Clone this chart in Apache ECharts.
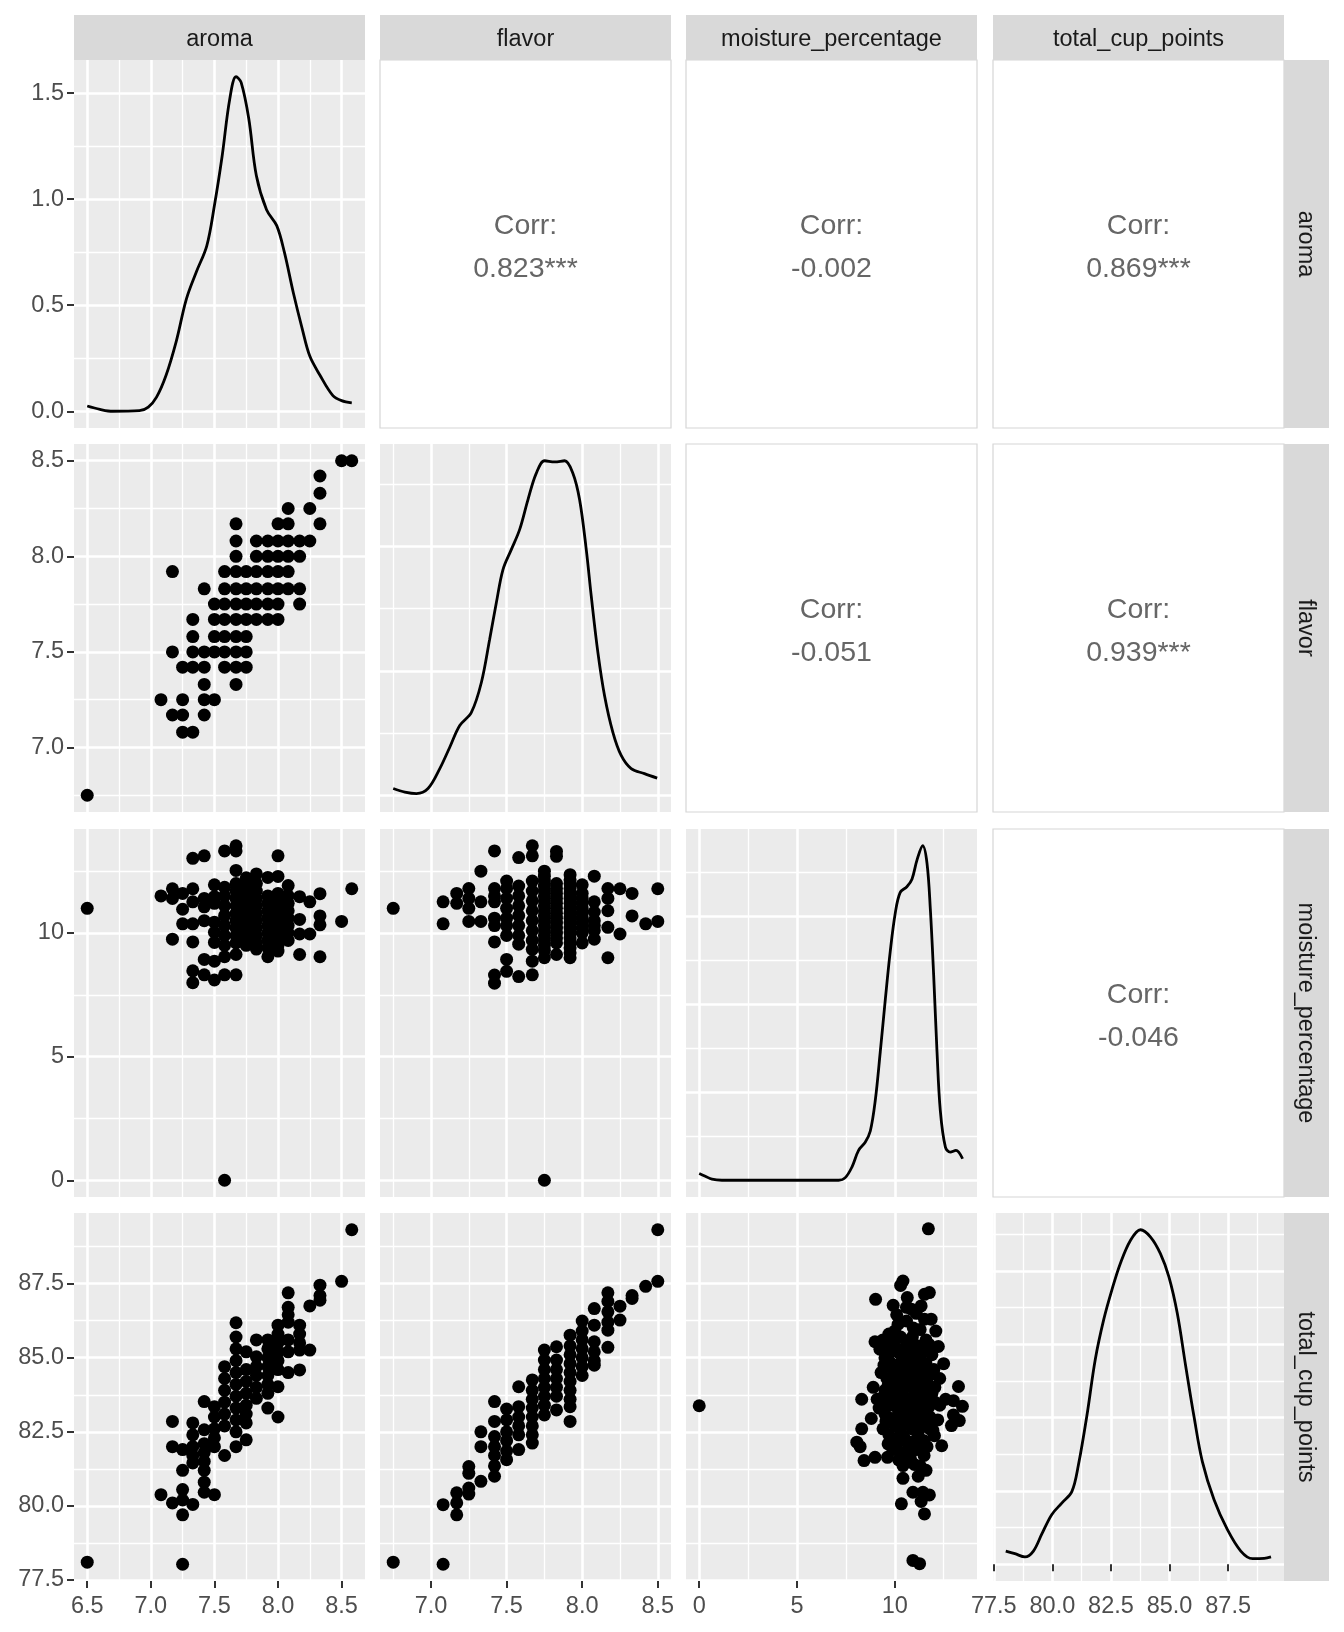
<!DOCTYPE html>
<html>
<head>
<meta charset="utf-8">
<script src="https://cdn.jsdelivr.net/npm/echarts@6/dist/echarts.min.js"></script>
<style>
  html, body { margin: 0; padding: 0; background: #ffffff; }
  #main { width: 1344px; height: 1632px; }
</style>
</head>
<body>
<div id="main"></div>
<script>
var myChart = echarts.init(document.getElementById('main'));

const FONT = '"Liberation Sans", Arial, sans-serif';

const varNames = ['aroma', 'flavor', 'moisture_percentage', 'total_cup_points'];

// breaks of each variable (major + minor grid lines)
const aromaBreaks = [6.5, 7.0, 7.5, 8.0, 8.5];
const aromaMinor = [6.75, 7.25, 7.75, 8.25];
const flavorBreaks = [7.0, 7.5, 8.0, 8.5];
const flavorMinor = [6.75, 7.25, 7.75, 8.25];
const moistureBreaks = [0, 5, 10];
const moistureMinor = [2.5, 7.5, 12.5];
const totalBreaks = [77.5, 80.0, 82.5, 85.0, 87.5];
const totalMinor = [78.75, 81.25, 83.75, 86.25, 88.75];

// density breaks (only the aroma one is labelled)
const aromaDensBreaks = [0, 0.5, 1.0, 1.5];
const aromaDensMinor = [0.25, 0.75, 1.25];
const flavorDensBreaks = [0, 0.5, 1.0];
const flavorDensMinor = [0.25, 0.75, 1.25];
const moistureDensBreaks = [0, 0.5, 1.0, 1.5];
const moistureDensMinor = [0.25, 0.75, 1.25, 1.75];
const totalDensBreaks = [0, 0.5, 1.0, 1.5, 2.0];
const totalDensMinor = [0.25, 0.75, 1.25, 1.75, 2.25];

// correlations shown in the upper triangle
const corrLabels = {
  '0-1': '0.823***', '0-2': '-0.002', '0-3': '0.869***',
  '1-2': '-0.051', '1-3': '0.939***',
  '2-3': '-0.046'
};

// diagonal densities [x, density]
const aromaDensity = [[6.5,0.025],[6.6,0.009],[6.7,0.0],[6.91,0.003],[6.98,0.02],[7.045,0.067],[7.12,0.17],[7.2,0.33],[7.28,0.53],[7.36,0.66],[7.44,0.78],[7.5,0.97],[7.56,1.2],[7.62,1.47],[7.67,1.577],[7.71,1.55],[7.77,1.38],[7.83,1.11],[7.91,0.95],[7.99,0.875],[8.05,0.75],[8.12,0.56],[8.19,0.39],[8.25,0.26],[8.33,0.17],[8.43,0.075],[8.5,0.05],[8.58,0.04]];
const flavorDensity = [[6.75,0.027],[6.827,0.013],[6.904,0.007],[6.98,0.027],[7.058,0.107],[7.124,0.193],[7.19,0.28],[7.267,0.333],[7.333,0.453],[7.388,0.627],[7.432,0.773],[7.476,0.907],[7.531,0.987],[7.586,1.067],[7.641,1.187],[7.696,1.293],[7.752,1.344],[7.818,1.339],[7.884,1.344],[7.939,1.293],[7.983,1.187],[8.027,0.987],[8.06,0.8],[8.104,0.573],[8.148,0.4],[8.203,0.253],[8.258,0.16],[8.324,0.107],[8.412,0.087],[8.496,0.069]];
const moistureDensity = [[0,0.038],[0.31,0.023],[0.65,0.006],[1.16,0],[4.0,0],[7.13,0],[7.47,0.015],[7.81,0.075],[8.15,0.17],[8.49,0.216],[8.75,0.28],[9.0,0.45],[9.26,0.73],[9.52,1.03],[9.77,1.3],[10.03,1.52],[10.28,1.635],[10.62,1.667],[10.88,1.71],[11.14,1.82],[11.43,1.9],[11.65,1.8],[11.82,1.54],[11.99,1.165],[12.16,0.733],[12.33,0.395],[12.59,0.188],[12.84,0.16],[13.13,0.17],[13.47,0.122]];
const totalDensity = [[78.01,0.09],[78.4,0.072],[78.83,0.05],[79.19,0.09],[79.54,0.203],[79.97,0.338],[80.4,0.417],[80.83,0.495],[81.11,0.676],[81.47,1.01],[81.83,1.396],[82.19,1.667],[82.54,1.87],[82.9,2.05],[83.33,2.207],[83.76,2.28],[84.19,2.23],[84.61,2.117],[84.97,1.96],[85.33,1.71],[85.69,1.35],[86.04,1.01],[86.4,0.7],[86.9,0.44],[87.47,0.236],[88.04,0.09],[88.54,0.038],[89.04,0.04],[89.33,0.05]];

// scatter panels [x, y]
const aromaFlavorPts = [[6.5,6.75],
  [8.5,8.5],[8.58,8.5],[8.33,8.42],[8.33,8.33],[8.08,8.25],[8.25,8.25],
  [7.67,8.17],[8.0,8.17],[8.08,8.17],[8.33,8.17],
  [7.67,8.08],[7.83,8.08],[7.92,8.08],[8.0,8.08],[8.08,8.08],[8.17,8.08],[8.25,8.08],
  [7.67,8.0],[7.83,8.0],[7.92,8.0],[8.0,8.0],[8.08,8.0],[8.17,8.0],
  [7.17,7.92],[7.58,7.92],[7.67,7.92],[7.75,7.92],[7.83,7.92],[7.92,7.92],[8.0,7.92],[8.08,7.92],
  [7.42,7.83],[7.58,7.83],[7.67,7.83],[7.75,7.83],[7.83,7.83],[7.92,7.83],[8.0,7.83],[8.08,7.83],[8.17,7.83],
  [7.5,7.75],[7.58,7.75],[7.67,7.75],[7.75,7.75],[7.83,7.75],[7.92,7.75],[8.0,7.75],[8.17,7.75],
  [7.33,7.67],[7.5,7.67],[7.58,7.67],[7.67,7.67],[7.75,7.67],[7.83,7.67],[7.92,7.67],[8.0,7.67],
  [7.33,7.58],[7.5,7.58],[7.58,7.58],[7.67,7.58],[7.75,7.58],
  [7.17,7.5],[7.33,7.5],[7.42,7.5],[7.5,7.5],[7.58,7.5],[7.67,7.5],[7.75,7.5],
  [7.25,7.42],[7.33,7.42],[7.42,7.42],[7.58,7.42],[7.67,7.42],[7.75,7.42],
  [7.42,7.33],[7.67,7.33],
  [7.08,7.25],[7.25,7.25],[7.42,7.25],[7.5,7.25],
  [7.17,7.17],[7.25,7.17],[7.42,7.17],
  [7.25,7.08],[7.33,7.08]];

const aromaMoisturePts = [[6.5,11.0],[7.58,0.0],
  [7.08,11.5],[7.17,11.79],[7.17,11.4],[7.17,9.75],
  [7.25,11.6],[7.25,10.96],[7.25,10.37],
  [7.33,13.02],[7.33,11.79],[7.33,11.26],[7.33,10.37],[7.33,9.64],[7.33,8.47],[7.33,7.99],
  [7.42,13.12],[7.42,11.4],[7.42,11.06],[7.42,10.5],[7.42,8.93],[7.42,8.31],
  [7.5,11.95],[7.5,11.47],[7.5,11.2],[7.5,10.44],[7.5,10.03],[7.5,9.62],[7.5,8.86],[7.5,8.1],
  [7.58,13.32],[7.58,11.85],[7.58,11.5],[7.58,11.1],[7.58,10.7],[7.58,10.3],[7.58,9.9],[7.58,9.5],[7.58,9.04],[7.58,8.31],
  [7.67,13.53],[7.67,13.32],[7.67,12.53],[7.67,12.0],[7.67,11.7],[7.67,11.4],[7.67,11.1],[7.67,10.8],[7.67,10.5],[7.67,10.2],[7.67,9.9],[7.67,9.6],[7.67,9.13],[7.67,8.31],
  [7.75,12.23],[7.75,11.9],[7.75,11.6],[7.75,11.3],[7.75,11.0],[7.75,10.7],[7.75,10.4],[7.75,10.1],[7.75,9.8],[7.75,9.5],
  [7.83,12.39],[7.83,12.0],[7.83,11.7],[7.83,11.4],[7.83,11.1],[7.83,10.8],[7.83,10.5],[7.83,10.2],[7.83,9.9],[7.83,9.6],[7.83,9.35],
  [7.92,12.25],[7.92,11.5],[7.92,11.2],[7.92,10.9],[7.92,10.6],[7.92,10.3],[7.92,10.0],[7.92,9.7],[7.92,9.4],[7.92,9.04],
  [8.0,13.12],[8.0,12.29],[8.0,11.6],[8.0,11.3],[8.0,11.0],[8.0,10.7],[8.0,10.4],[8.0,10.1],[8.0,9.8],[8.0,9.5],[8.0,9.27],
  [8.08,11.92],[8.08,11.5],[8.08,11.2],[8.08,10.9],[8.08,10.6],[8.08,10.3],[8.08,10.0],[8.08,9.7],
  [8.17,11.47],[8.17,10.55],[8.17,9.96],[8.17,9.13],
  [8.25,11.26],[8.25,9.96],
  [8.33,11.59],[8.33,10.69],[8.33,10.33],[8.33,9.04],
  [8.5,10.47],[8.58,11.79]];

const flavorMoisturePts = [[6.75,11.0],[7.75,0.0],
  [7.08,11.26],[7.08,10.37],
  [7.17,11.6],[7.17,11.2],
  [7.25,11.8],[7.25,11.4],[7.25,11.0],[7.25,10.47],
  [7.33,12.5],[7.33,11.26],[7.33,10.47],
  [7.42,13.32],[7.42,11.8],[7.42,11.5],[7.42,11.26],[7.42,10.6],[7.42,10.3],[7.42,9.64],[7.42,8.3],[7.42,7.97],
  [7.5,12.1],[7.5,11.8],[7.5,11.4],[7.5,11.0],[7.5,10.6],[7.5,10.3],[7.5,9.9],[7.5,8.93],[7.5,8.45],
  [7.58,13.05],[7.58,11.9],[7.58,11.5],[7.58,11.1],[7.58,10.7],[7.58,10.3],[7.58,9.9],[7.58,9.55],[7.58,8.24],
  [7.67,13.53],[7.67,13.12],[7.67,12.1],[7.67,11.7],[7.67,11.3],[7.67,10.9],[7.67,10.5],[7.67,10.1],[7.67,9.7],[7.67,9.34],[7.67,8.86],[7.67,8.31],
  [7.75,12.5],[7.75,12.3],[7.75,12.1],[7.75,11.9],[7.75,11.7],[7.75,11.5],[7.75,11.3],[7.75,11.1],[7.75,10.9],[7.75,10.7],[7.75,10.5],[7.75,10.3],[7.75,10.1],[7.75,9.9],[7.75,9.7],[7.75,9.5],[7.75,9.3],[7.75,9.0],
  [7.83,13.3],[7.83,13.1],[7.83,12.0],[7.83,11.8],[7.83,11.6],[7.83,11.4],[7.83,11.2],[7.83,11.0],[7.83,10.8],[7.83,10.6],[7.83,10.4],[7.83,10.2],[7.83,10.0],[7.83,9.8],[7.83,9.6],[7.83,9.13],
  [7.92,12.36],[7.92,12.15],[7.92,12.0],[7.92,11.8],[7.92,11.6],[7.92,11.4],[7.92,11.2],[7.92,11.0],[7.92,10.8],[7.92,10.6],[7.92,10.4],[7.92,10.2],[7.92,10.0],[7.92,9.8],[7.92,9.6],[7.92,9.4],[7.92,9.2],[7.92,9.0],
  [8.0,11.95],[8.0,11.6],[8.0,11.4],[8.0,11.2],[8.0,11.0],[8.0,10.8],[8.0,10.6],[8.0,10.4],[8.0,10.2],[8.0,10.0],[8.0,9.6],
  [8.08,12.3],[8.08,11.26],[8.08,10.85],[8.08,10.5],[8.08,10.3],[8.08,10.1],[8.08,9.75],
  [8.17,11.8],[8.17,11.4],[8.17,10.9],[8.17,10.23],[8.17,9.0],
  [8.25,11.79],[8.25,9.96],
  [8.33,11.6],[8.33,10.69],
  [8.42,10.37],
  [8.5,11.79],[8.5,10.47]];

const aromaTotalPts = [[6.5,78.1],
  [8.58,89.32],[8.5,87.58],
  [8.33,87.45],[8.33,87.1],[8.33,86.94],[8.25,86.75],
  [8.08,87.19],[8.08,86.7],[8.08,86.45],[8.08,86.2],[8.08,85.6],[8.08,85.2],[8.08,84.5],
  [8.17,86.1],[8.17,85.8],[8.17,85.5],[8.17,85.26],[8.17,84.59],[8.25,85.26],
  [8.0,86.1],[8.0,85.8],[8.0,85.5],[8.0,85.2],[8.0,84.9],[8.0,84.6],[8.0,84.02],[8.0,83.0],
  [7.92,85.6],[7.92,85.3],[7.92,85.0],[7.92,84.7],[7.92,84.4],[7.92,84.1],[7.92,83.8],[7.92,83.3],
  [7.83,85.6],[7.83,85.03],[7.83,84.7],[7.83,84.4],[7.83,84.0],[7.83,83.63],
  [7.75,85.2],[7.75,84.6],[7.75,84.2],[7.75,83.8],[7.75,83.4],[7.75,83.1],[7.75,82.8],[7.75,82.23],
  [7.67,86.18],[7.67,85.7],[7.67,85.3],[7.67,84.9],[7.67,84.5],[7.67,84.1],[7.67,83.7],[7.67,83.3],[7.67,82.9],[7.67,82.5],[7.67,82.0],
  [7.58,84.7],[7.58,84.3],[7.58,83.9],[7.58,83.5],[7.58,83.1],[7.58,82.7],[7.58,81.7],
  [7.5,83.35],[7.5,83.0],[7.5,82.6],[7.5,82.3],[7.5,82.0],[7.5,80.38],
  [7.42,83.52],[7.42,82.57],[7.42,82.1],[7.42,81.8],[7.42,81.5],[7.42,81.2],[7.42,80.8],[7.42,80.46],
  [7.33,82.8],[7.33,82.4],[7.33,82.0],[7.33,81.7],[7.33,81.45],[7.33,80.05],
  [7.25,81.9],[7.25,81.2],[7.25,80.55],[7.25,80.2],[7.25,79.7],[7.25,78.03],
  [7.17,82.85],[7.17,82.0],[7.17,80.1],
  [7.08,80.38]];

const flavorTotalPts = [[6.75,78.1],[7.08,78.03],
  [8.5,89.32],[8.5,87.58],[8.42,87.41],[8.33,87.1],[8.33,87.0],
  [8.25,86.74],[8.25,86.27],
  [8.17,87.19],[8.17,86.9],[8.17,86.55],[8.17,86.2],[8.17,85.93],[8.17,85.35],
  [8.08,86.66],[8.08,86.1],[8.08,85.54],[8.08,85.2],[8.08,84.9],[8.08,84.75],
  [8.0,86.24],[8.0,85.9],[8.0,85.6],[8.0,85.3],[8.0,85.0],[8.0,84.7],[8.0,84.4],
  [7.92,85.76],[7.92,85.4],[7.92,85.1],[7.92,84.8],[7.92,84.5],[7.92,84.2],[7.92,83.9],[7.92,83.6],[7.92,83.35],[7.92,82.85],
  [7.83,85.37],[7.83,84.92],[7.83,84.6],[7.83,84.3],[7.83,84.0],[7.83,83.7],[7.83,83.24],
  [7.75,85.26],[7.75,84.92],[7.75,84.6],[7.75,84.3],[7.75,84.0],[7.75,83.7],[7.75,83.4],[7.75,83.07],
  [7.67,84.25],[7.67,83.9],[7.67,83.6],[7.67,83.3],[7.67,83.0],[7.67,82.7],[7.67,82.4],[7.67,82.12],
  [7.58,84.02],[7.58,83.35],[7.58,83.0],[7.58,82.7],[7.58,82.4],[7.58,81.9],
  [7.5,83.27],[7.5,82.9],[7.5,82.5],[7.5,82.2],[7.5,81.85],[7.5,81.56],
  [7.42,83.52],[7.42,82.85],[7.42,82.34],[7.42,82.0],[7.42,81.7],[7.42,81.35],[7.42,81.0],
  [7.33,82.5],[7.33,82.0],[7.33,80.83],
  [7.25,81.33],[7.25,81.1],[7.25,80.6],[7.25,80.4],
  [7.17,80.44],[7.17,80.1],[7.17,79.7],
  [7.08,80.04]];

const moistureTotalPts = [[0.0,83.38],
  [11.72,89.35],[10.42,87.59],[10.3,87.44],[11.52,87.14],[11.77,87.2],
  [9.02,86.97],[9.92,86.77],[10.64,87.03],[10.85,86.64],
  [11.52,86.3],[11.86,86.3],[10.17,86.13],[10.6,86.24],[10.95,86.0],[11.3,85.95],
  [12.23,85.38],[8.99,85.54],[9.24,85.29],
  [13.26,84.03],[13.0,83.55],[13.46,83.36],[13.0,83.07],[13.3,82.88],[12.9,82.71],
  [8.31,83.6],[8.8,82.95],[8.31,82.6],[8.06,82.15],[8.23,82.0],
  [8.43,81.53],[8.99,81.64],[9.63,81.64],[9.66,82.09],
  [12.4,82.03],[12.03,82.37],
  [10.42,81.36],[10.42,80.93],
  [10.93,80.46],[11.44,80.46],[11.77,80.37],[11.35,80.15],
  [10.34,80.07],[11.52,79.73],
  [10.93,78.16],[11.27,78.05],
  [9.4,85.6],[9.7,85.8],[10.0,85.9],[10.3,85.7],[10.6,85.5],[10.9,85.7],[11.2,85.4],[11.6,85.6],[11.9,85.1],
  [9.5,85.0],[9.8,85.2],[10.1,85.3],[10.4,85.0],[10.7,85.1],[11.0,84.9],[11.3,85.0],[11.6,84.8],[12.0,84.6],[12.3,84.3],
  [9.3,84.5],[9.6,84.3],[9.9,84.6],[10.2,84.4],[10.5,84.7],[10.8,84.4],[11.1,84.5],[11.4,84.3],[11.7,84.1],
  [9.5,83.9],[9.8,83.7],[10.1,84.0],[10.4,83.8],[10.7,83.6],[11.0,83.9],[11.3,83.7],[11.6,83.5],[11.9,83.8],[12.3,83.4],[12.6,83.6],
  [9.2,83.3],[9.5,83.1],[9.9,83.4],[10.2,83.2],[10.5,83.0],[10.8,83.3],[11.1,83.1],[11.4,82.9],[11.8,83.0],[12.2,82.9],
  [9.4,82.6],[9.7,82.4],[10.0,82.7],[10.3,82.5],[10.6,82.2],[10.9,82.6],[11.2,82.4],[11.5,82.2],[11.8,82.6],
  [9.9,81.9],[10.4,81.8],[10.8,81.6],[11.1,81.9],[11.5,81.7],[11.6,81.2],[11.2,81.0],
  [12.1,85.9],[12.5,84.8],[8.9,84.0],[9.1,83.6],
  [9.65,85.45],[9.95,85.55],[10.25,85.15],[10.55,85.25],[10.85,85.3],[11.15,85.1],[11.45,85.25],[11.75,85.45],
  [9.45,84.75],[9.75,84.85],[10.05,84.75],[10.35,84.55],[10.65,84.9],[10.95,84.65],[11.25,84.75],[11.55,84.55],[11.85,84.45],
  [9.65,84.05],[9.95,84.2],[10.25,83.95],[10.55,84.2],[10.85,84.05],[11.15,84.2],[11.45,83.95],[11.75,84.4],[12.05,84.0],
  [9.35,83.65],[9.65,83.45],[9.95,83.6],[10.25,83.45],[10.55,83.35],[10.85,83.55],[11.15,83.45],[11.45,83.25],[11.75,83.35],[12.05,83.5],
  [9.55,82.85],[9.85,82.95],[10.15,82.85],[10.45,82.75],[10.75,82.95],[11.05,82.75],[11.35,82.65],[11.65,82.8],[11.95,82.55],
  [9.85,82.25],[10.15,82.15],[10.45,82.35],[10.75,82.0],[11.05,82.2],[11.35,81.95],[11.65,82.0],
  [10.2,81.55],[11.0,81.4],[11.3,81.35],[10.6,86.7],[11.1,86.5],[11.35,86.75],[10.1,86.45]];

// panel layout
const colLeft = [74, 380, 686, 993];
const rowTop = [60, 444, 829, 1213];
const panelW = 291, panelH = 368;

// ggplot style 5% expansion
function expand(values) {
  let lo = Math.min.apply(null, values), hi = Math.max.apply(null, values);
  let pad = (hi - lo) * 0.05;
  return [lo - pad, hi + pad];
}
const col = (arr, i) => arr.map(p => p[i]);

const varRange = [
  expand(col(aromaFlavorPts, 0)),
  expand(col(aromaFlavorPts, 1)),
  expand(col(aromaMoisturePts, 1).concat(col(flavorMoisturePts, 1))),
  expand(col(aromaTotalPts, 1).concat(col(flavorTotalPts, 1)))
];
const varMajor = [aromaBreaks, flavorBreaks, moistureBreaks, totalBreaks];
const varMinor = [aromaMinor, flavorMinor, moistureMinor, totalMinor];
const varDigits = [1, 1, 0, 1];

const densities = [aromaDensity, flavorDensity, moistureDensity, totalDensity];
const densMajor = [aromaDensBreaks, flavorDensBreaks, moistureDensBreaks, totalDensBreaks];
const densMinor = [aromaDensMinor, flavorDensMinor, moistureDensMinor, totalDensMinor];

const scatterPanels = {
  '1-0': aromaFlavorPts,
  '2-0': aromaMoisturePts,
  '2-1': flavorMoisturePts,
  '3-0': aromaTotalPts,
  '3-1': flavorTotalPts,
  '3-2': moistureTotalPts
};

function axisPair(dim, g, range, major, minor, showLabels, digits) {
  const base = {
    type: 'value', gridIndex: g, min: range[0], max: range[1],
    axisLine: { show: false }, minorTick: { show: false }, minorSplitLine: { show: false },
    splitArea: { show: false }
  };
  const pos = dim === 'x' ? ['bottom', 'top'] : ['left', 'right'];
  return [
    Object.assign({}, base, {
      position: pos[0],
      axisTick: { show: showLabels, customValues: major, length: 7, lineStyle: { color: '#333333', width: 2 } },
      axisLabel: {
        show: showLabels, customValues: major, color: '#4D4D4D', fontSize: 23.5, fontFamily: FONT,
        margin: dim === 'x' ? 14 : 10, formatter: v => Number(v).toFixed(digits)
      },
      splitLine: { show: true, lineStyle: { color: '#FFFFFF', width: 2.6 } }
    }),
    Object.assign({}, base, {
      position: pos[1],
      axisTick: { show: false, customValues: minor },
      axisLabel: { show: false },
      splitLine: { show: true, lineStyle: { color: '#FFFFFF', width: 1.3 } }
    })
  ];
}

let grids = [], xAxes = [], yAxes = [], series = [], graphics = [];

for (let r = 0; r < 4; r++) {
  for (let c = 0; c < 4; c++) {
    if (r < c) {
      // correlation panel
      let cx = colLeft[c] + panelW / 2, cy = rowTop[r] + panelH / 2;
      graphics.push({
        type: 'rect', shape: { x: colLeft[c], y: rowTop[r], width: panelW, height: panelH },
        style: { fill: '#FFFFFF', stroke: '#D6D6D6', lineWidth: 1.2 }
      });
      graphics.push({
        type: 'text', x: cx, y: cy - 18,
        style: { text: 'Corr:', fill: '#666666', font: '28.5px ' + FONT, textAlign: 'center', textVerticalAlign: 'middle' }
      });
      graphics.push({
        type: 'text', x: cx, y: cy + 25,
        style: { text: corrLabels[r + '-' + c], fill: '#666666', font: '28.5px ' + FONT, textAlign: 'center', textVerticalAlign: 'middle' }
      });
      continue;
    }
    let g = grids.length;
    grids.push({
      left: colLeft[c], top: rowTop[r], width: panelW, height: panelH,
      show: true, backgroundColor: '#EBEBEB', borderWidth: 0, containLabel: false, outerBoundsMode: 'none'
    });
    xAxes.push.apply(xAxes, axisPair('x', g, varRange[c], varMajor[c], varMinor[c], r === 3, varDigits[c]));
    if (r === c) {
      let yr = [0 - 0.05 * Math.max.apply(null, col(densities[c], 1)), 1.05 * Math.max.apply(null, col(densities[c], 1))];
      yAxes.push.apply(yAxes, axisPair('y', g, yr, densMajor[c], densMinor[c], c === 0, 1));
      series.push({
        type: 'line', xAxisIndex: 2 * g, yAxisIndex: 2 * g, data: densities[c],
        showSymbol: false, smooth: 0.35, silent: true,
        lineStyle: { color: '#000000', width: 2.8 }
      });
    } else {
      yAxes.push.apply(yAxes, axisPair('y', g, varRange[r], varMajor[r], varMinor[r], c === 0, varDigits[r]));
      series.push({
        type: 'scatter', xAxisIndex: 2 * g, yAxisIndex: 2 * g, data: scatterPanels[r + '-' + c],
        symbolSize: 13, silent: true,
        itemStyle: { color: '#000000', opacity: 1 }
      });
    }
  }
}

// strips
for (let i = 0; i < 4; i++) {
  graphics.push({
    type: 'rect', shape: { x: colLeft[i], y: 15, width: panelW, height: 45 },
    style: { fill: '#D9D9D9' }
  });
  graphics.push({
    type: 'text', x: colLeft[i] + panelW / 2, y: 39.5,
    style: { text: varNames[i], fill: '#1A1A1A', font: '23.5px ' + FONT, textAlign: 'center', textVerticalAlign: 'middle' }
  });
  graphics.push({
    type: 'rect', shape: { x: 1284, y: rowTop[i], width: 45, height: panelH },
    style: { fill: '#D9D9D9' }
  });
  graphics.push({
    type: 'text', x: 1305, y: rowTop[i] + panelH / 2, rotation: -Math.PI / 2,
    style: { text: varNames[i], fill: '#1A1A1A', font: '23.5px ' + FONT, textAlign: 'center', textVerticalAlign: 'middle' }
  });
}

var option = {
  backgroundColor: '#FFFFFF',
  animation: false,
  grid: grids,
  xAxis: xAxes,
  yAxis: yAxes,
  series: series,
  graphic: { elements: graphics }
};

myChart.setOption(option);
</script>
</body>
</html>
